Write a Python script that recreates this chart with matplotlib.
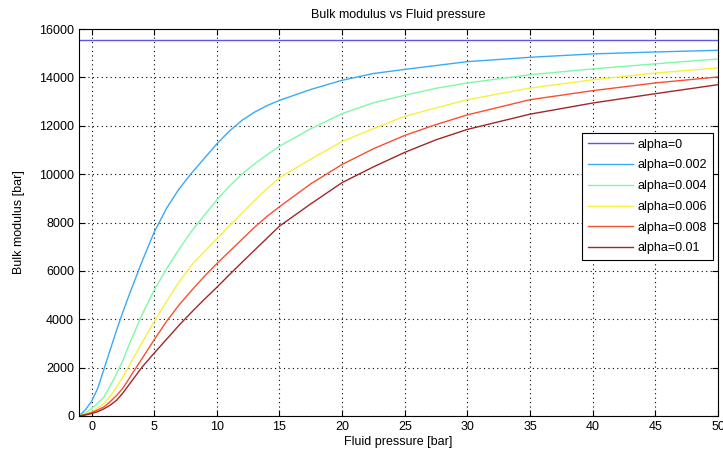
import matplotlib
matplotlib.use("Agg")
import matplotlib.pyplot as plt
import numpy as np

plt.rcParams['font.family'] = ['Liberation Sans', 'DejaVu Sans']

pressure = [-1, -0.5, 0, 0.5, 1, 1.5, 2, 2.5, 3, 4, 5, 6, 7, 8, 9, 10, 11, 12, 13, 14, 15,
            17.5, 20, 22.5, 25, 27.5, 30, 35, 40, 45, 50]

alpha0 = [15530] * len(pressure)
alpha002 = [0, 250, 600, 1150, 1950, 2750, 3550, 4300, 5000, 6350, 7600, 8600, 9400, 10050, 10650,
            11250, 11780, 12220, 12560, 12830, 13050, 13500, 13880, 14160, 14330, 14490, 14650,
            14830, 14970, 15050, 15120]
alpha004 = [0, 120, 310, 530, 790, 1250, 1750, 2300, 2950, 4150, 5200, 6100, 6900, 7650, 8300,
            8936, 9500, 10000, 10420, 10800, 11150, 11880, 12500, 12950, 13260, 13550, 13770,
            14110, 14350, 14560, 14760]
alpha006 = [0, 80, 170, 330, 520, 820, 1200, 1620, 2080, 3000, 3900, 4750, 5550, 6250, 6800,
            7330, 7860, 8380, 8900, 9400, 9850, 10620, 11350, 11880, 12390, 12740, 13077,
            13560, 13900, 14180, 14390]
alpha008 = [0, 60, 140, 250, 380, 600, 850, 1150, 1550, 2350, 3150, 3920, 4600, 5200, 5770,
            6300, 6800, 7300, 7800, 8250, 8650, 9600, 10400, 11050, 11600, 12050, 12450,
            13077, 13450, 13770, 14017]
alpha010 = [0, 40, 100, 180, 300, 450, 650, 950, 1300, 2000, 2600, 3180, 3760, 4300, 4820,
            5320, 5840, 6350, 6850, 7350, 7850, 8770, 9650, 10300, 10900, 11420, 11850,
            12480, 12940, 13326, 13698]

labels = ['alpha=0', 'alpha=0.002', 'alpha=0.004', 'alpha=0.006', 'alpha=0.008', 'alpha=0.01']
colors = ['#5858e8', '#38aaf8', '#80f8a8', '#f8f040', '#f85030', '#a02828']
series = [alpha0, alpha002, alpha004, alpha006, alpha008, alpha010]

fig = plt.figure(figsize=(7.23, 4.59), dpi=100)
ax = fig.add_axes([79/723, (459-416)/459, 639/723, (416-29)/459])

for ys, c, lab in zip(series, colors, labels):
    ax.plot(pressure, ys, color=c, lw=1.0, label=lab)

ax.set_xlim(-1, 50)
ax.set_ylim(0, 16000)
ax.set_xticks(np.arange(0, 51, 5))
ax.set_yticks(np.arange(0, 16001, 2000))
ax.grid(True, linestyle=(0, (1, 3)), color='black', lw=0.8)
ax.tick_params(direction='in', top=True, right=True, labelsize=9, length=4)
for s in ax.spines.values():
    s.set_linewidth(0.8)
ax.set_title('Bulk modulus vs Fluid pressure', fontsize=9, pad=8)
ax.set_xlabel('Fluid pressure [bar]', fontsize=9, labelpad=2)
ax.set_ylabel('Bulk modulus [bar]', fontsize=9, labelpad=10)

leg = ax.legend(loc='upper right', bbox_to_anchor=(0.992, 0.731), borderaxespad=0,
                fontsize=9, fancybox=False, framealpha=1, edgecolor='black',
                handlelength=3.6, handletextpad=0.4, borderpad=0.45, labelspacing=0.7)
leg.get_frame().set_linewidth(0.8)

fig.savefig('out.png', dpi=100)
